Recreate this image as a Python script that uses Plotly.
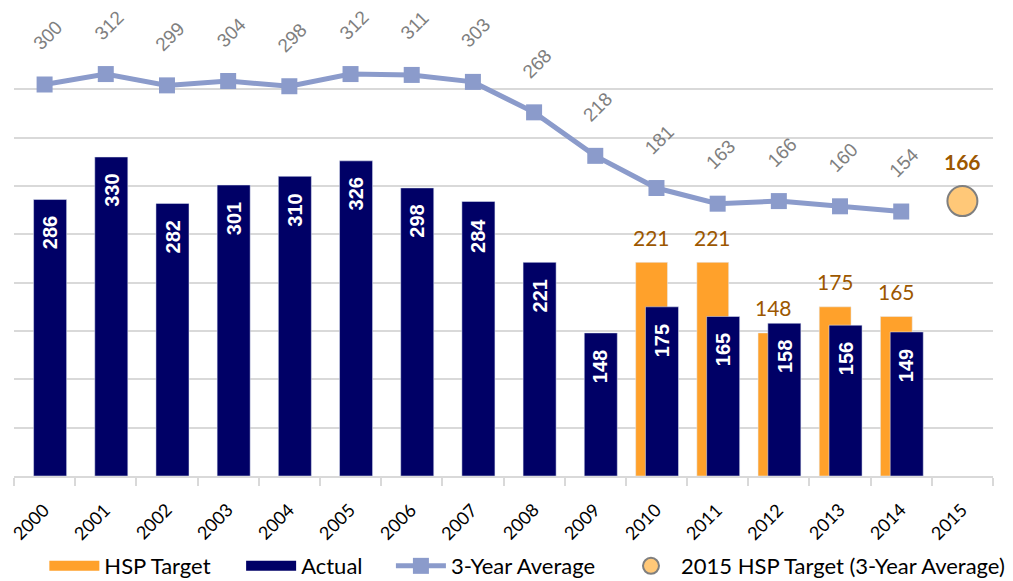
import plotly.graph_objects as go

years = [str(y) for y in range(2000, 2016)]
actual = [286, 330, 282, 301, 310, 326, 298, 284, 221, 148, 175, 165, 158, 156, 149, None]
target = [None] * 10 + [221, 221, 148, 175, 165, None]
avg3 = [300, 312, 299, 304, 298, 312, 311, 303, 268, 218, 181, 163, 166, 160, 154, None]
target_2015_year = "2015"
target_2015 = 166

NAVY = "#000066"
ORANGE = "#FFA12B"
LINE = "#8B9BCB"
BROWN = "#9C5700"
GRID = "#D9D9D9"

xs = list(range(len(years)))
x2015 = years.index(target_2015_year)

T_W, T_OFF = 0.52, -0.34
A_W, A_OFF = 0.54, -0.18

fig = go.Figure()

fig.add_trace(go.Bar(
    name="HSP Target", x=xs, y=target, marker_color=ORANGE,
    width=T_W, offset=T_OFF, showlegend=False,
))
fig.add_trace(go.Bar(
    name="Actual", x=xs, y=actual, marker_color=NAVY,
    width=A_W, offset=A_OFF, showlegend=False,
))
fig.add_trace(go.Scatter(
    name="3-Year Average", x=xs, y=avg3, yaxis="y2", mode="lines+markers",
    line=dict(color=LINE, width=5), marker=dict(symbol="square", size=16, color=LINE),
    legend="legend3",
))
fig.add_trace(go.Scatter(
    name="2015 HSP Target (3-Year Average)", x=[x2015], y=[target_2015], yaxis="y2",
    mode="markers",
    marker=dict(symbol="circle", size=30, color="#FFC878", line=dict(color="#7F7F7F", width=2)),
    legend="legend4",
))
# legend-only entries for the bar series (wide swatches)
fig.add_trace(go.Scatter(name="HSP Target", x=[None], y=[None], mode="lines",
                         line=dict(color=ORANGE, width=14), legend="legend"))
fig.add_trace(go.Scatter(name="Actual", x=[None], y=[None], mode="lines",
                         line=dict(color=NAVY, width=14), legend="legend2"))

annotations = []
# category labels (rotated), placed under each category
for i, yr in zip(xs, years):
    annotations.append(dict(
        x=i, y=0, xref="x", yref="paper", text=yr, showarrow=False,
        textangle=-45, xanchor="right", yanchor="top", xshift=12, yshift=-20,
        font=dict(family="Lato, Calibri, sans-serif", size=18, color="#000000"),
    ))
for i, v in zip(xs, avg3):
    if v is None:
        continue
    annotations.append(dict(
        x=i, y=v, xref="x", yref="y2", text=str(v), showarrow=False,
        textangle=-45, yshift=49, xshift=3,
        font=dict(family="Liberation Sans, Arial", size=19, color="#7F7F7F"),
    ))
for i, v in zip(xs, target):
    if v is None:
        continue
    annotations.append(dict(
        x=i + T_OFF + T_W / 2, y=v, xref="x", yref="y", text=str(v), showarrow=False,
        yanchor="middle", yshift=25,
        font=dict(family="Lato, Calibri, sans-serif", size=21, color=BROWN),
    ))
for i, v in zip(xs, actual):
    if v is None:
        continue
    annotations.append(dict(
        x=i + A_OFF + A_W / 2, y=v, xref="x", yref="y", text="<b>%d</b>" % v, showarrow=False,
        textangle=-90, yanchor="top", yshift=-15,
        font=dict(family="Liberation Sans, Arial", size=20, color="white"),
    ))
annotations.append(dict(
    x=x2015, y=target_2015, xref="x", yref="y2", text="<b>%d</b>" % target_2015, showarrow=False,
    yshift=40, font=dict(family="Lato, Calibri, sans-serif", size=21, color=BROWN),
))

leg_font = dict(family="Lato, Calibri, sans-serif", size=22, color="#000000")
def leg(xp):
    return dict(orientation="h", x=xp, xanchor="left", y=-0.207, yanchor="middle",
                font=leg_font, itemwidth=50, bgcolor="rgba(0,0,0,0)")

fig.update_layout(
    width=1005, height=573,
    margin=dict(l=6, r=20, t=33, b=105, autoexpand=False),
    paper_bgcolor="white", plot_bgcolor="white",
    barmode="overlay",
    showlegend=True,
    legend=leg(0.0310),
    legend2=leg(0.2320),
    legend3=leg(0.3850),
    legend4=leg(0.6200),
    xaxis=dict(
        range=[-0.5, len(years) - 0.5], automargin=False,
        tickmode="array", tickvals=xs, ticktext=years,
        ticks="", showticklabels=False,
        minor=dict(tickmode="linear", tick0=-0.5, dtick=1, ticks="outside",
                   ticklen=8, tickcolor=GRID, tickwidth=1.5, showgrid=False),
        showline=True, linecolor=GRID, linewidth=1.5,
        showgrid=False, zeroline=False,
    ),
    yaxis=dict(
        range=[0, 450], dtick=50, showgrid=True, gridcolor=GRID, gridwidth=1.5,
        showticklabels=False, zeroline=False, showline=False, automargin=False,
    ),
    yaxis2=dict(
        range=[-150, 350], overlaying="y", side="right", showgrid=False,
        showticklabels=False, zeroline=False, showline=False, automargin=False,
    ),
    annotations=annotations,
)

fig.write_html("out.html")
